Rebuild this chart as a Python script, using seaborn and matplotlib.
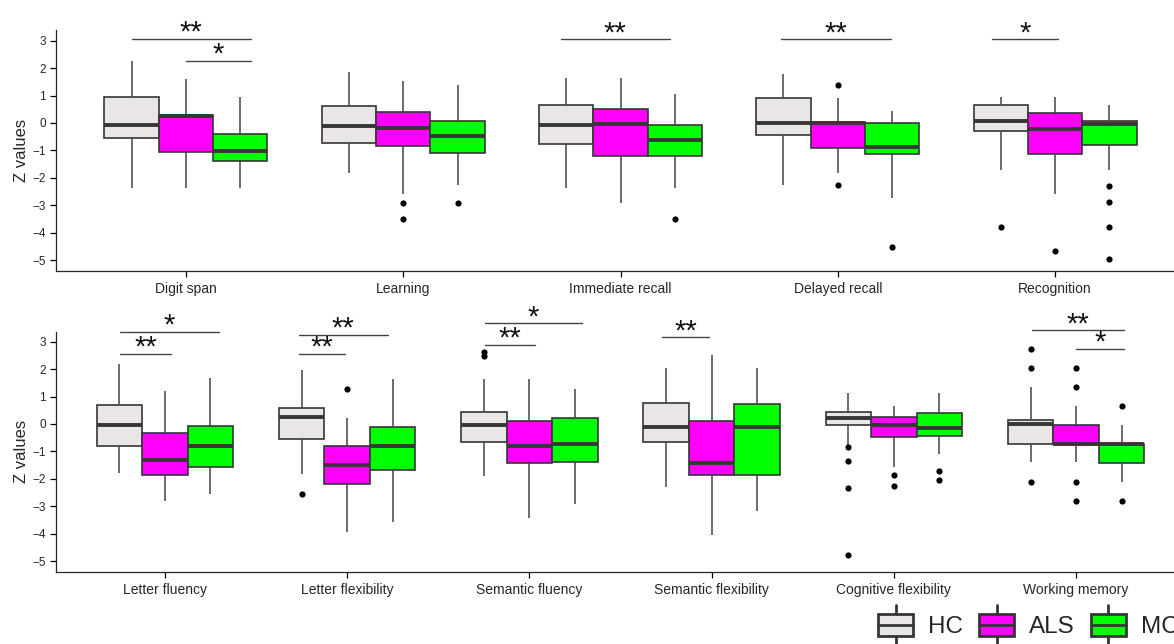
import numpy as np
import pandas as pd
import matplotlib
matplotlib.use("Agg")
import matplotlib.pyplot as plt
import seaborn as sns
from matplotlib.patches import Rectangle, Patch
from matplotlib.lines import Line2D
from matplotlib.legend_handler import HandlerBase
from matplotlib import font_manager

# ---------------- data ----------------
groups = ["HC", "ALS", "MC"]
group_colors = ["#EAE6E5", "#FF00FF", "#00FF00"]

top_categories = ["Digit span", "Learning", "Immediate recall", "Delayed recall", "Recognition"]
# five-number summaries: (lower whisker, Q1, median, Q3, upper whisker)
top_HC = [(-2.37, -0.55, -0.06, 0.95, 2.26), (-1.81, -0.73, -0.10, 0.63, 1.85),
          (-2.36, -0.78, -0.06, 0.64, 1.64), (-2.25, -0.45, 0.00, 0.91, 1.80),
          (-1.70, -0.29, 0.07, 0.67, 0.95)]
top_ALS = [(-2.37, -1.06, 0.25, 0.30, 1.59), (-2.59, -0.84, -0.19, 0.40, 1.52),
           (-2.92, -1.20, -0.05, 0.51, 1.64), (-1.81, -0.91, 0.00, 0.03, 0.90),
           (-2.59, -1.12, -0.22, 0.36, 0.95)]
top_MC = [(-2.37, -1.39, -1.03, -0.39, 0.94), (-2.25, -1.09, -0.47, 0.07, 1.40),
          (-2.36, -1.20, -0.63, -0.07, 1.07), (-2.72, -1.14, -0.89, 0.00, 0.44),
          (-1.70, -0.81, -0.05, 0.07, 0.66)]
# outliers: (category, group, value)
top_outliers = [("Learning", "ALS", -2.93), ("Learning", "ALS", -3.49), ("Learning", "MC", -2.93),
                ("Immediate recall", "MC", -3.51),
                ("Delayed recall", "ALS", 1.37), ("Delayed recall", "ALS", -2.27),
                ("Delayed recall", "MC", -4.53),
                ("Recognition", "HC", -3.80), ("Recognition", "ALS", -4.68),
                ("Recognition", "MC", -2.31), ("Recognition", "MC", -2.89),
                ("Recognition", "MC", -3.80), ("Recognition", "MC", -4.97)]
# significance brackets: (category, start offset, end offset, height, label)
top_signif = [("Digit span", -0.25, 0.30, 3.06, "**"), ("Digit span", 0.0, 0.30, 2.25, "*"),
              ("Immediate recall", -0.275, 0.226, 3.05, "**"),
              ("Delayed recall", -0.26, 0.243, 3.05, "**"),
              ("Recognition", -0.29, 0.015, 3.05, "*")]

bottom_categories = ["Letter fluency", "Letter flexibility", "Semantic fluency",
                     "Semantic flexibility", "Cognitive flexibility", "Working memory"]
bottom_HC = [(-1.80, -0.80, -0.05, 0.69, 2.19), (-1.83, -0.55, 0.24, 0.58, 1.96),
             (-1.89, -0.64, -0.05, 0.45, 1.63), (-2.31, -0.67, -0.11, 0.75, 2.05),
             (-0.77, -0.05, 0.23, 0.45, 1.13), (-1.40, -0.72, -0.01, 0.15, 1.34)]
bottom_ALS = [(-2.81, -1.87, -1.31, -0.32, 1.19), (-3.92, -2.19, -1.49, -0.80, 0.23),
              (-3.41, -1.43, -0.80, 0.11, 1.63), (-4.06, -1.87, -1.43, 0.09, 2.50),
              (-1.57, -0.47, -0.02, 0.26, 0.67), (-1.40, -0.74, -0.72, -0.04, 0.64)]
bottom_MC = [(-2.56, -1.55, -0.80, -0.06, 1.69), (-3.58, -1.68, -0.79, -0.11, 1.62),
             (-2.90, -1.40, -0.72, 0.21, 1.29), (-3.18, -1.87, -0.11, 0.74, 2.05),
             (-1.08, -0.44, -0.13, 0.39, 1.12), (-2.10, -1.41, -0.72, -0.72, -0.05)]
bottom_outliers = [("Letter flexibility", "HC", -2.55), ("Letter flexibility", "ALS", 1.28),
                   ("Semantic fluency", "HC", 2.61), ("Semantic fluency", "HC", 2.48),
                   ("Cognitive flexibility", "HC", -0.84), ("Cognitive flexibility", "HC", -1.35),
                   ("Cognitive flexibility", "HC", -2.33), ("Cognitive flexibility", "HC", -4.77),
                   ("Cognitive flexibility", "ALS", -1.86), ("Cognitive flexibility", "ALS", -2.26),
                   ("Cognitive flexibility", "MC", -1.71), ("Cognitive flexibility", "MC", -2.04),
                   ("Working memory", "HC", 2.73), ("Working memory", "HC", 2.04),
                   ("Working memory", "HC", -2.11),
                   ("Working memory", "ALS", 2.04), ("Working memory", "ALS", 1.35),
                   ("Working memory", "ALS", -2.11), ("Working memory", "ALS", -2.81),
                   ("Working memory", "MC", 0.66), ("Working memory", "MC", -2.81)]
bottom_signif = [("Letter fluency", -0.248, 0.297, 3.34, "*"), ("Letter fluency", -0.248, 0.034, 2.54, "**"),
                 ("Letter flexibility", -0.266, 0.222, 3.25, "**"), ("Letter flexibility", -0.266, -0.009, 2.54, "**"),
                 ("Semantic fluency", -0.246, 0.290, 3.66, "*"), ("Semantic fluency", -0.246, 0.033, 2.87, "**"),
                 ("Semantic flexibility", -0.274, -0.014, 3.15, "**"),
                 ("Working memory", -0.243, 0.264, 3.41, "**"), ("Working memory", 0.0, 0.264, 2.74, "*")]

# ---------------- style ----------------
sns.set_theme(style="ticks")
plt.rcParams["font.family"] = ["Liberation Sans", "DejaVu Sans"]
plt.rcParams["axes.linewidth"] = 0.9
EDGE = "#363636"
BOX_WIDTH = 0.75

installed = {f.name for f in font_manager.fontManager.ttflist}
legend_family = ["Liberation Sans Narrow", "DejaVu Sans"] if "Liberation Sans Narrow" in installed \
    else ["Liberation Sans", "DejaVu Sans"]
legend_size = 21 if "Liberation Sans Narrow" in installed else 17.5

W, H = 1174, 644
fig = plt.figure(figsize=(W / 100, H / 100), dpi=100)


def long_frame(categories, hc, als, mc):
    rows = []
    for g, summaries in zip(groups, [hc, als, mc]):
        for cat, five in zip(categories, summaries):
            for v in five:
                rows.append({"category": cat, "group": g, "value": v})
    return pd.DataFrame(rows)


def draw_panel(ax, categories, hc, als, mc, outliers, signif, ylim):
    df = long_frame(categories, hc, als, mc)
    sns.boxplot(data=df, x="category", y="value", hue="group", order=categories,
                hue_order=groups, palette=group_colors, saturation=1, width=BOX_WIDTH,
                whis=(0, 100), linecolor=EDGE, linewidth=1.2, showcaps=False,
                showfliers=False, legend=False, ax=ax,
                medianprops=dict(color=EDGE, linewidth=2.8),
                whiskerprops=dict(color="#444444", linewidth=1.1))
    offsets = (np.arange(len(groups)) - (len(groups) - 1) / 2) * BOX_WIDTH / len(groups)
    ox = [categories.index(c) + offsets[groups.index(g)] for c, g, v in outliers]
    oy = [v for c, g, v in outliers]
    ax.scatter(ox, oy, s=20, color="black", zorder=5, linewidths=0)
    for cat, x0, x1, y, lab in signif:
        ci = categories.index(cat)
        ax.plot([ci + x0, ci + x1], [y, y], color="#444444", lw=1.0, clip_on=False)
        ax.annotate(lab, xy=(ci + (x0 + x1) / 2, y), xytext=(0, -1.3),
                    textcoords="offset points", ha="center", va="baseline",
                    fontsize=21, color="#111111", annotation_clip=False)
    ax.set_xlim(-0.6, len(categories) - 0.4)
    ax.set_ylim(*ylim)
    ax.set_yticks(np.arange(-5, 4))
    ax.set_xlabel("")
    ax.set_ylabel("Z values", fontsize=12, labelpad=2)
    ax.tick_params(axis="both", length=4, width=0.9, color="black")
    ax.tick_params(axis="x", labelsize=10, pad=4)
    ax.tick_params(axis="y", labelsize=8.5, pad=3)
    sns.despine(ax=ax)


left, right = 55.5 / W, 1185.5 / W
ax1 = fig.add_axes([left, 1 - 270.7 / H, right - left, (270.7 - 30) / H])
draw_panel(ax1, top_categories, top_HC, top_ALS, top_MC, top_outliers, top_signif, (-5.39, 3.39))
ax2 = fig.add_axes([left, 1 - 571.7 / H, right - left, (571.7 - 331.7) / H])
draw_panel(ax2, bottom_categories, bottom_HC, bottom_ALS, bottom_MC, bottom_outliers, bottom_signif, (-5.38, 3.36))


class BoxHandler(HandlerBase):
    def create_artists(self, legend, orig_handle, xdescent, ydescent, width, height, fontsize, trans):
        x0, y0 = -xdescent, -ydescent
        fc = orig_handle.get_facecolor()
        rect = Rectangle((x0, y0), width, height, facecolor=fc, edgecolor=EDGE,
                         linewidth=2.0, transform=trans)
        med = Line2D([x0, x0 + width], [y0 + height / 2] * 2, color=EDGE, lw=2.0, transform=trans)
        xm = x0 + width / 2
        w1 = Line2D([xm, xm], [y0 + height, y0 + height * 1.4], color=EDGE, lw=2.0, transform=trans)
        w2 = Line2D([xm, xm], [y0, y0 - height * 0.4], color=EDGE, lw=2.0, transform=trans)
        return [rect, med, w1, w2]


handles = [Patch(facecolor=c) for c in group_colors]
fs_px = legend_size * 100 / 72
fig.legend(handles, groups, handler_map={Patch: BoxHandler()}, loc="center left",
           bbox_to_anchor=(878 / W, 1 - 626 / H), ncol=3, frameon=False,
           prop={"family": legend_family, "size": legend_size},
           handlelength=35 / fs_px, handleheight=24 / fs_px, handletextpad=15 / fs_px,
           columnspacing=16 / fs_px, borderpad=0, borderaxespad=0)

fig.savefig("out.png", dpi=100)
